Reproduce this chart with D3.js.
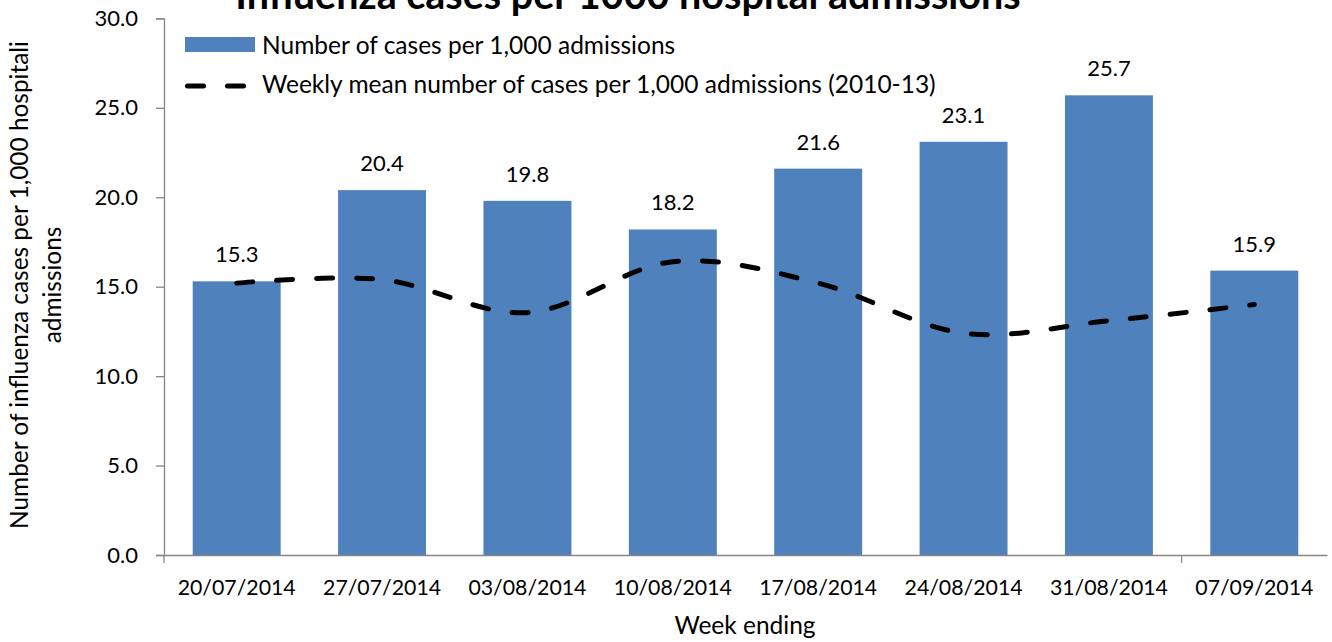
<!DOCTYPE html>
<html>
<head>
<meta charset="utf-8">
<script src="https://cdn.jsdelivr.net/npm/d3@7"></script>
<style>
  html, body { margin: 0; padding: 0; background: #fff; }
  svg { display: block; }
  text { font-family: Lato, "Open Sans", sans-serif; fill: #000; }
</style>
</head>
<body>
<svg id="chart" width="1332" height="642"></svg>
<script>
const categories = ["20/07/2014", "27/07/2014", "03/08/2014", "10/08/2014", "17/08/2014", "24/08/2014", "31/08/2014", "07/09/2014"];
const casesPer1000 = [15.3, 20.4, 19.8, 18.2, 21.6, 23.1, 25.7, 15.9];
const weeklyMean = [15.2, 15.4, 13.55, 16.4, 15.2, 12.4, 13.1, 14.0];
const yTicks = [0, 5, 10, 15, 20, 25, 30];
const titleText = "Influenza cases per 1000 hospital admissions";
const seriesNames = ["Number of cases per 1,000 admissions", "Weekly mean number of cases per 1,000 admissions (2010-13)"];
const yTitleLines = ["Number of influenza cases per 1,000 hospitali", "admissions"];
const xTitle = "Week ending";

const svg = d3.select("#chart");
const plotLeft = 164, plotRight = 1327, plotTop = 18.4, plotBottom = 555;
const barColor = "#4F81BD";
const axisColor = "#868686";

const x = d3.scaleBand().domain(categories).range([plotLeft, plotRight]).paddingInner(0.395).paddingOuter(0.1975);
const y = d3.scaleLinear().domain([0, 30]).range([plotBottom, plotTop]);

// Title (clipped at top, as in the source image)
svg.append("text").attr("x", 628).attr("y", 9).attr("text-anchor", "middle")
  .style("font-weight", "bold").style("font-size", "39.5px").text(titleText);

// Bars
svg.append("g").selectAll("rect").data(categories).join("rect")
  .attr("x", d => x(d)).attr("width", x.bandwidth())
  .attr("y", (d, i) => y(casesPer1000[i]))
  .attr("height", (d, i) => y(0) - y(casesPer1000[i]))
  .attr("fill", barColor);

// Data labels
svg.append("g").selectAll("text").data(categories).join("text")
  .attr("x", d => x(d) + x.bandwidth() / 2)
  .attr("y", (d, i) => y(casesPer1000[i]) - 19)
  .attr("text-anchor", "middle").style("font-size", "22px")
  .text((d, i) => casesPer1000[i].toFixed(1));

// Y axis
const yAxis = d3.axisLeft(y).tickValues(yTicks).tickFormat(d3.format(".1f")).tickSize(8).tickPadding(18);
const gy = svg.append("g").attr("transform", `translate(${plotLeft},0)`).call(yAxis);
gy.select(".domain").attr("stroke", axisColor).attr("stroke-width", 1.3);
gy.selectAll(".tick line").attr("stroke", axisColor).attr("stroke-width", 1.3);
gy.selectAll(".tick text").style("font-size", "22px").attr("font-family", null).attr("fill", "#000");

// X axis (line and tick marks at category boundaries 0 and 7)
const xAxis = d3.axisBottom(x).tickSize(0).tickPadding(25);
const gx = svg.append("g").attr("transform", `translate(0,${plotBottom})`).call(xAxis);
gx.select(".domain").attr("stroke", axisColor).attr("stroke-width", 1.3);
gx.selectAll(".tick text").style("font-size", "21.3px").attr("font-family", null).attr("fill", "#000");
const step = x.step();
const boundaryTicks = [0, 7];
gx.selectAll(".btick").data(boundaryTicks).join("line").attr("class", "btick")
  .attr("x1", d => plotLeft + d * step).attr("x2", d => plotLeft + d * step)
  .attr("y1", 0).attr("y2", 8).attr("stroke", axisColor).attr("stroke-width", 1.3);

// Mean line
const line = d3.line().x((d, i) => x(categories[i]) + x.bandwidth() / 2).y(d => y(d)).curve(d3.curveCatmullRom.alpha(0));
svg.append("path").datum(weeklyMean).attr("d", line)
  .attr("fill", "none").attr("stroke", "#000").attr("stroke-width", 5)
  .attr("stroke-linecap", "round").attr("stroke-dasharray", "16,24");

// Legend
const lg = svg.append("g");
lg.append("rect").attr("x", 185).attr("y", 37).attr("width", 70).attr("height", 15).attr("fill", barColor);
lg.append("text").attr("x", 262).attr("y", 44).attr("dominant-baseline", "central").style("font-size", "24.5px").text(seriesNames[0]);
lg.append("line").attr("x1", 187.5).attr("x2", 245).attr("y1", 86).attr("y2", 86)
  .attr("stroke", "#000").attr("stroke-width", 5).attr("stroke-linecap", "round").attr("stroke-dasharray", "16,24");
lg.append("text").attr("x", 262).attr("y", 83).attr("dominant-baseline", "central").style("font-size", "24.5px").text(seriesNames[1]);

// Y axis title
const yt = svg.append("text").attr("transform", "translate(0,285) rotate(-90)").attr("text-anchor", "middle").style("font-size", "24.4px");
yt.append("tspan").attr("x", 0).attr("y", 28).text(yTitleLines[0]);
yt.append("tspan").attr("x", 0).attr("y", 61).text(yTitleLines[1]);

// X axis title
svg.append("text").attr("x", 745).attr("y", 634).attr("text-anchor", "middle").style("font-size", "24.5px").text(xTitle);
</script>
</body>
</html>
